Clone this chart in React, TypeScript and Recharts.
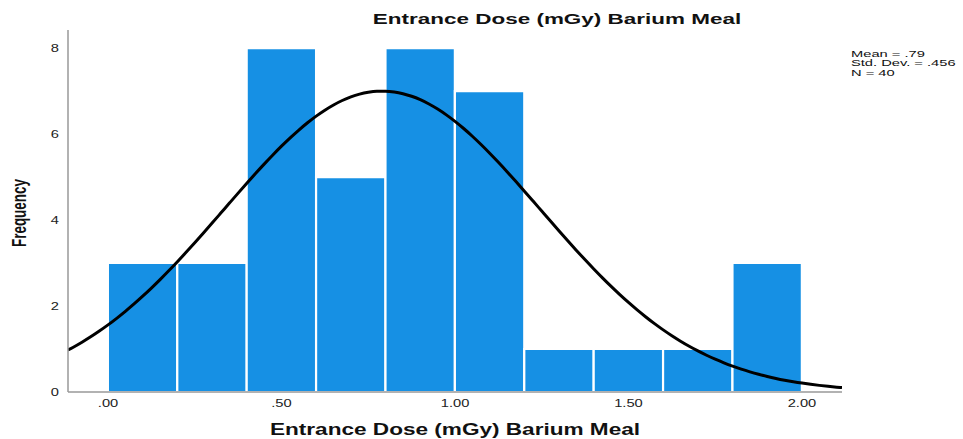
import React from 'react';
import { ComposedChart, Bar, Line, XAxis, YAxis, Rectangle } from 'recharts';

// ---- data ----
const binStarts = [0, 0.2, 0.4, 0.6, 0.8, 1.0, 1.2, 1.4, 1.6, 1.8];
const binWidth = 0.2;
const counts = [3, 3, 8, 5, 8, 7, 1, 1, 1, 3];
const meanValue = 0.79;
const stdDev = 0.456;
const nValue = 40;
const xTicks = [0, 0.5, 1, 1.5, 2];
const xTickLabels = ['.00', '.50', '1.00', '1.50', '2.00'];
const yTicks = [0, 2, 4, 6, 8];
const legendLines = ['Mean = .79', 'Std. Dev. = .456', 'N = 40'];
const titleText = 'Entrance Dose (mGy) Barium Meal';
const xLabelText = 'Entrance Dose (mGy) Barium Meal';
const yLabelText = 'Frequency';

// ---- layout ----
const W = 963;
const H = 439;
const M = { top: 30, right: 121, bottom: 46, left: 67 };
const xMin = -0.1153;
const xMax = 2.1153;
const yMax = 8.42;
const plotW = W - 68 - M.right;
const pxPerUnit = plotW / (xMax - xMin);
const FONT = '"Liberation Sans", Arial, sans-serif';
const SX = 1.4; // horizontal stretch of the reference image

// normal fit curve (from the stated Mean / Std. Dev. / N)
const normalFit = (x: number) =>
  (nValue * binWidth) / (stdDev * Math.sqrt(2 * Math.PI)) *
  Math.exp(-0.5 * ((x - meanValue) / stdDev) ** 2);

const rows: { x: number; curve: number; count?: number }[] = [];
rows.push({ x: xMin, curve: normalFit(xMin) });
for (let i = -4; i <= 84; i++) {
  const x = i / 40;
  const row: { x: number; curve: number; count?: number } = { x, curve: normalFit(x) };
  binStarts.forEach((s, k) => {
    if (Math.abs(s + binWidth / 2 - x) < 1e-9) row.count = counts[k];
  });
  rows.push(row);
}
rows.push({ x: xMax, curve: normalFit(xMax) });

// histogram bar: centred on the scaled bin centre, one bin wide
const BinShape = (props: any) => {
  const { x, y, width, height } = props;
  if (height == null || height <= 0) return null;
  const cx = x + width / 2;
  const bw = binWidth * pxPerUnit;
  return (
    <Rectangle
      x={cx - bw / 2}
      y={y}
      width={bw}
      height={height}
      fill="#1690E4"
      stroke="#ffffff"
      strokeWidth={2.2}
    />
  );
};

const XTick = (props: any) => {
  const { x, y, payload } = props;
  const idx = xTicks.indexOf(payload.value);
  return (
    <text
      transform={`translate(${x},${y}) scale(${SX},1)`}
      textAnchor="middle"
      dy="0.71em"
      fontSize={10.5}
      fontFamily={FONT}
      fill="#222"
    >
      {idx >= 0 ? xTickLabels[idx] : String(payload.value)}
    </text>
  );
};

const YTick = (props: any) => {
  const { x, y, payload } = props;
  return (
    <text
      transform={`translate(${x - 1},${y}) scale(${SX},1)`}
      textAnchor="end"
      dy="0.36em"
      fontSize={10.5}
      fontFamily={FONT}
      fill="#222"
    >
      {payload.value}
    </text>
  );
};

export default function App() {
  return (
    <div style={{ position: 'absolute', left: 0, top: 0, width: W, height: H, background: '#fff' }}>
      <ComposedChart width={W} height={H} data={rows} margin={M}>
        <XAxis
          type="number"
          dataKey="x"
          domain={[xMin, xMax]}
          allowDataOverflow
          ticks={xTicks}
          interval={0}
          tickLine={false}
          axisLine={{ stroke: '#999', strokeWidth: 1.5 }}
          tick={<XTick />}
          height={1}
          label={{
            content: () => (
              <text
                transform={`translate(455,435) scale(1.37,1)`}
                textAnchor="middle"
                fontSize={16.5}
                fontWeight="bold"
                fontFamily={FONT}
                fill="#111"
              >
                {xLabelText}
              </text>
            ),
          }}
        />
        <YAxis
          type="number"
          domain={[0, yMax]}
          allowDataOverflow
          ticks={yTicks}
          interval={0}
          tickLine={false}
          axisLine={{ stroke: '#999', strokeWidth: 1.5 }}
          tick={<YTick />}
          width={1}
          label={{
            content: () => (
              <text
                transform={`translate(26,213) scale(1.43,1) rotate(-90)`}
                textAnchor="middle"
                fontSize={13.5}
                fontWeight="bold"
                fontFamily={FONT}
                fill="#111"
              >
                {yLabelText}
              </text>
            ),
          }}
        />
        <Bar
          dataKey="count"
          fill="#1690E4"
          shape={<BinShape />}
          isAnimationActive={false}
        />
        <Line
          dataKey="curve"
          type="monotone"
          stroke="#000"
          strokeWidth={3}
          dot={false}
          activeDot={false}
          isAnimationActive={false}
        />
        <text
          transform={`translate(557,24) scale(1.45,1)`}
          textAnchor="middle"
          fontSize={15.5}
          fontWeight="bold"
          fontFamily={FONT}
          fill="#111"
        >
          {titleText}
        </text>
        {legendLines.map((t, i) => (
          <text
            key={t}
            transform={`translate(851,${56.5 + i * 9.5}) scale(1.58,1)`}
            fontSize={9.3}
            fontFamily={FONT}
            fill="#111"
          >
            {t}
          </text>
        ))}
      </ComposedChart>
    </div>
  );
}
